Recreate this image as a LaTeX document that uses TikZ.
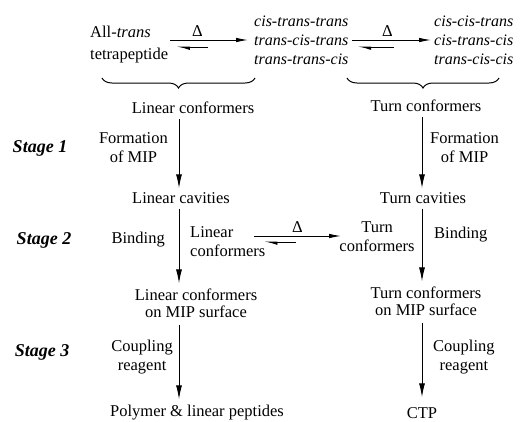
\documentclass[tikz,border=0pt]{standalone}
\usepackage{fontspec}
\setmainfont{Liberation Serif}
\usetikzlibrary{arrows.meta,decorations.pathreplacing}

\begin{document}
\begin{tikzpicture}[x=1pt,y=-1pt,
  every node/.style={font=\fontsize{16.5}{19}\selectfont, inner sep=2pt},
  itl/.style={font=\fontsize{16}{19}\selectfont\itshape, align=left},
  stage/.style={font=\fontsize{18}{21}\selectfont\bfseries\itshape},
  flow/.style={-{Latex[length=14pt,width=6pt]}, line width=1pt},
  fwd/.style={-{Latex[length=12pt,width=4.5pt]}, line width=0.9pt},
  bwd/.style={-{Latex[harpoon,length=11pt,width=6pt]}, line width=0.9pt},
  curly/.style={decorate, decoration={brace, mirror, amplitude=10pt}, line width=1pt}]
  \useasboundingbox (0,0) rectangle (527,421);
  \coordinate (lcol) at (179,0);
  \coordinate (rcol) at (422,0);
  % top row
  \node[anchor=west, align=left] (allt) at (88,45) {All-\textit{trans}\\[3pt]tetrapeptide};
  \node[itl, anchor=west] (lin3) at (252,40) {cis-trans-trans\\trans-cis-trans\\trans-trans-cis};
  \node[itl, anchor=west] (turn3) at (432,40) {cis-cis-trans\\cis-trans-cis\\trans-cis-cis};
  \draw[fwd] (allt.east |- lin3.west) -- node[pos=0.35, above=1pt] {Δ} ([xshift=-4pt]lin3.west);
  \draw[bwd] ([xshift=-44pt,yshift=-7pt]lin3.west) -- ([xshift=6pt,yshift=-7pt]allt.east |- lin3.west);
  \draw[fwd] ([xshift=1pt]lin3.east) -- node[pos=0.45, above=1pt] {Δ} ([xshift=-1pt]turn3.west);
  \draw[bwd] ([xshift=-38pt,yshift=-7pt]turn3.west) -- ([xshift=7pt,yshift=-7pt]lin3.east);
  \draw[curly] (102,78) -- (255,78);
  \draw[curly] (347,78) -- (499,78);
  % left column
  \node (linconf) at (193,108) {Linear conformers};
  \node (lincav) at (181,198) {Linear cavities};
  \node[align=center] (linsurf) at (196,303) {Linear conformers\\[-2pt]on MIP surface};
  \node (linpep) at (197,413) {Polymer \& linear peptides};
  \draw[flow] ([yshift=-3pt]linconf.south -| lcol) -- ([yshift=2pt]lincav.north -| lcol);
  \draw[flow] ([yshift=-3pt]lincav.south -| lcol) -- ([yshift=3pt]linsurf.north -| lcol);
  \draw[flow] ([yshift=-5pt]linsurf.south -| lcol) -- ([yshift=4pt]linpep.north -| lcol);
  \node[align=center, anchor=east] (form1) at (170,148) {Formation\\of MIP};
  \node[anchor=east] (bind1) at (167,240) {Binding};
  \node[align=center, anchor=east] (coup1) at (175,357) {Coupling\\reagent};
  % right column
  \node (turnconf) at (426,106) {Turn conformers};
  \node (turncav) at (423,198) {Turn cavities};
  \node[align=center] (turnsurf) at (426,301) {Turn conformers\\[-2pt]on MIP surface};
  \node (ctp) at (422,413) {CTP};
  \draw[flow] ([yshift=-3pt]turnconf.south -| rcol) -- ([yshift=2pt]turncav.north -| rcol);
  \draw[flow] ([yshift=-3pt]turncav.south -| rcol) -- ([yshift=3pt]turnsurf.north -| rcol);
  \draw[flow] ([yshift=-5pt]turnsurf.south -| rcol) -- ([yshift=8pt]ctp.north -| rcol);
  \node[align=center, anchor=west] (form2) at (428,148) {Formation\\of MIP};
  \node[anchor=west] (bind2) at (432,235) {Binding};
  \node[align=center, anchor=west] (coup2) at (431,357) {Coupling\\reagent};
  % stage 2 equilibrium
  \node[align=left, anchor=west] (linc2) at (188,242) {Linear\\conformers};
  \node[align=center] (turnc2) at (377,237) {Turn\\conformers};
  \coordinate (eqa) at (254,236);
  \coordinate (eqb) at (341,236);
  \draw[fwd] (eqa) -- node[midway, above=1pt] {Δ} (eqb);
  \draw[bwd] ([xshift=42pt,yshift=-6pt]eqa) -- ([xshift=10pt,yshift=-6pt]eqa);
  % stages
  \node[stage] (stage1) at (40,148) {Stage 1};
  \node[stage] (stage2) at (44,240) {Stage 2};
  \node[stage] (stage3) at (42,352) {Stage 3};
\end{tikzpicture}
\end{document}
